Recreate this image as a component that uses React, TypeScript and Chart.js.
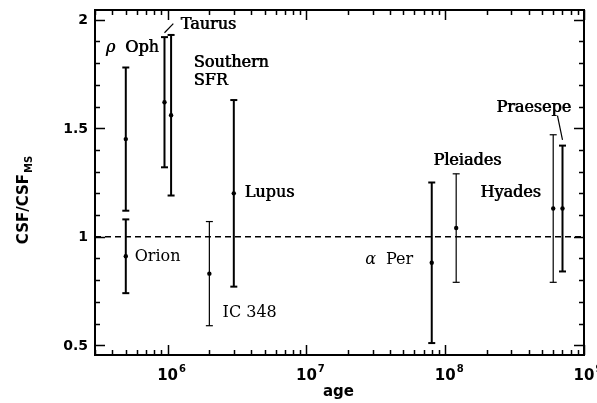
import { useEffect, useRef } from "react";
import { Chart, registerables } from "chart.js";
Chart.register(...registerables);

// ---- data ----
const clusters = ["ρ Oph", "Orion", "Taurus a", "Taurus b", "IC 348", "Lupus", "α Per", "Pleiades", "Hyades", "Praesepe"];
const ages = [5e5, 5e5, 9.5e5, 1.06e6, 2e6, 3e6, 8e7, 1.2e8, 6e8, 7e8];
const csf = [1.45, 0.91, 1.62, 1.56, 0.83, 1.2, 0.88, 1.04, 1.13, 1.13];
const csfLow = [1.12, 0.74, 1.32, 1.19, 0.59, 0.77, 0.51, 0.79, 0.79, 0.84];
const csfHigh = [1.78, 1.08, 1.92, 1.93, 1.07, 1.63, 1.25, 1.29, 1.47, 1.42];
const xTickExponents = [6, 7, 8, 9];
const yTickLabels = ["0.5", "1", "1.5", "2"];

// ---- styles / annotations ----
const barWidths = [2, 2, 2, 2, 1.2, 2, 2, 1.2, 1.2, 2];
const X_MIN = 3e5;
const X_MAX = 1e9;
const Y_MIN = 0.455;
const Y_MAX = 2.045;

type Lbl = { greek?: string; text: string; x: number; y: number; heavy: boolean };
const labels: Lbl[] = [
  { greek: "ρ", text: "Oph", x: 3.58e5, y: 1.871, heavy: true },
  { text: "Taurus", x: 1.24e6, y: 1.977, heavy: true },
  { text: "Southern", x: 1.54e6, y: 1.802, heavy: true },
  { text: "SFR", x: 1.54e6, y: 1.719, heavy: true },
  { text: "Lupus", x: 3.58e6, y: 1.203, heavy: true },
  { text: "Orion", x: 5.8e5, y: 0.908, heavy: false },
  { text: "IC 348", x: 2.49e6, y: 0.65, heavy: false },
  { greek: "α", text: "Per", x: 2.65e7, y: 0.894, heavy: false },
  { text: "Pleiades", x: 8.2e7, y: 1.35, heavy: true },
  { text: "Hyades", x: 1.79e8, y: 1.203, heavy: true },
  { text: "Praesepe", x: 2.33e8, y: 1.594, heavy: true },
];
const leaders = [
  [9.5e5, 1.94, 1.1e6, 1.982],
  [6.44e8, 1.558, 7.0e8, 1.447],
];

const SANS = "'DejaVu Sans', sans-serif";
const SERIF = "'DejaVu Serif', serif";

const decorPlugin = {
  id: "decor",
  afterDatasetsDraw(chart: any) {
    const { ctx, chartArea: a, scales } = chart;
    const xs = scales.x;
    const ys = scales.y;
    ctx.save();
    ctx.strokeStyle = "#000";
    ctx.fillStyle = "#000";
    // frame
    ctx.lineWidth = 2;
    ctx.strokeRect(a.left, a.top, a.right - a.left, a.bottom - a.top);
    // x ticks
    ctx.lineWidth = 1.5;
    for (let e = 5; e <= 9; e++) {
      for (let m = 1; m <= 9; m++) {
        const v = m * Math.pow(10, e);
        if (v < X_MIN || v > X_MAX) continue;
        const px = Math.round(xs.getPixelForValue(v)) + 0.5;
        const len = m === 1 ? 10 : 5;
        ctx.beginPath();
        ctx.moveTo(px, a.bottom);
        ctx.lineTo(px, a.bottom - len);
        ctx.moveTo(px, a.top);
        ctx.lineTo(px, a.top + len);
        ctx.stroke();
      }
    }
    // y ticks
    for (let i = 5; i <= 20; i++) {
      const v = i / 10;
      const py = Math.round(ys.getPixelForValue(v)) + 0.5;
      const len = i % 5 === 0 ? 10 : 5;
      ctx.beginPath();
      ctx.moveTo(a.left, py);
      ctx.lineTo(a.left + len, py);
      ctx.moveTo(a.right, py);
      ctx.lineTo(a.right - len, py);
      ctx.stroke();
    }
    // y tick labels
    ctx.font = `bold 14px ${SANS}`;
    ctx.textAlign = "right";
    ctx.textBaseline = "middle";
    for (const t of yTickLabels) {
      ctx.fillText(t, a.left - 7, ys.getPixelForValue(parseFloat(t)) + 1);
    }
    // x tick labels
    ctx.textBaseline = "alphabetic";
    for (const e of xTickExponents) {
      const px = xs.getPixelForValue(Math.pow(10, e));
      ctx.font = `bold 15px ${SANS}`;
      ctx.textAlign = "center";
      ctx.fillText("10", px, a.bottom + 25);
      const w = ctx.measureText("10").width;
      ctx.font = `bold 10px ${SANS}`;
      ctx.textAlign = "left";
      ctx.fillText(String(e), px + w / 2 + 1, a.bottom + 17);
    }
    // x title
    ctx.font = `bold 15px ${SANS}`;
    ctx.textAlign = "center";
    ctx.fillText("age", (a.left + a.right) / 2 - 1, a.bottom + 41);
    // y title
    ctx.save();
    ctx.translate(28, 200);
    ctx.rotate(-Math.PI / 2);
    ctx.font = `bold 15px ${SANS}`;
    const main = "CSF/CSF";
    const mw = ctx.measureText(main).width;
    ctx.font = `bold 10px ${SANS}`;
    const sw = ctx.measureText("MS").width;
    const start = -(mw + sw + 1) / 2;
    ctx.textAlign = "left";
    ctx.font = `bold 15px ${SANS}`;
    ctx.fillText(main, start, 0);
    ctx.font = `bold 10px ${SANS}`;
    ctx.fillText("MS", start + mw + 1, 4);
    ctx.restore();
    // annotations
    ctx.textAlign = "left";
    ctx.textBaseline = "middle";
    const drawTxt = (t: string, x: number, y: number, heavy: boolean) => {
      ctx.fillText(t, x, y);
      if (heavy) ctx.fillText(t, x + 0.7, y);
    };
    for (const l of labels) {
      let px = xs.getPixelForValue(l.x);
      const py = ys.getPixelForValue(l.y);
      if (l.greek) {
        ctx.font = `italic 16px ${SERIF}`;
        drawTxt(l.greek, px, py, l.heavy);
        px += ctx.measureText(l.greek).width + 10;
      }
      ctx.font = `16px ${SERIF}`;
      drawTxt(l.text, px, py, l.heavy);
    }
    ctx.lineWidth = 1.2;
    for (const [x1, y1, x2, y2] of leaders) {
      ctx.beginPath();
      ctx.moveTo(xs.getPixelForValue(x1), ys.getPixelForValue(y1));
      ctx.lineTo(xs.getPixelForValue(x2), ys.getPixelForValue(y2));
      ctx.stroke();
    }
    ctx.restore();
  },
};

export default function App() {
  const ref = useRef<HTMLCanvasElement>(null);
  useEffect(() => {
    document.body.style.margin = "0";
    const errorSets = clusters.map((c, i) => ({
      type: "line" as const,
      label: c,
      data: [
        { x: ages[i], y: csfLow[i] },
        { x: ages[i], y: csfHigh[i] },
      ],
      borderColor: "#000",
      borderWidth: barWidths[i],
      pointStyle: "line" as const,
      pointRadius: 3.5,
      pointBorderWidth: barWidths[i],
      pointBorderColor: "#000",
      pointBackgroundColor: "#000",
    }));
    const chart = new Chart(ref.current!, {
      type: "scatter",
      data: {
        datasets: [
          {
            type: "line",
            label: "unity",
            data: [
              { x: X_MIN, y: 1 },
              { x: X_MAX, y: 1 },
            ],
            borderColor: "#000",
            borderWidth: 1.5,
            borderDash: [6, 4],
            pointRadius: 0,
          },
          ...errorSets,
          {
            label: "CSF",
            data: ages.map((a, i) => ({ x: a, y: csf[i] })),
            pointRadius: 2.2,
            backgroundColor: "#000",
            borderColor: "#000",
            borderWidth: 0,
          },
        ] as any,
      },
      options: {
        animation: false,
        responsive: true,
        maintainAspectRatio: false,
        layout: { padding: { left: 0, right: 13, top: 10, bottom: 0 } },
        plugins: { legend: { display: false }, tooltip: { enabled: false } },
        scales: {
          x: {
            type: "logarithmic",
            min: X_MIN,
            max: X_MAX,
            ticks: { display: false },
            grid: { display: false },
            border: { display: false },
            afterFit: (s: any) => {
              s.height = 48;
            },
          },
          y: {
            type: "linear",
            min: Y_MIN,
            max: Y_MAX,
            ticks: { display: false },
            grid: { display: false },
            border: { display: false },
            afterFit: (s: any) => {
              s.width = 95;
            },
          },
        },
      },
      plugins: [decorPlugin],
    });
    return () => chart.destroy();
  }, []);
  return (
    <div style={{ width: 597, height: 403, position: "relative", background: "#fff" }}>
      <canvas ref={ref} />
    </div>
  );
}
